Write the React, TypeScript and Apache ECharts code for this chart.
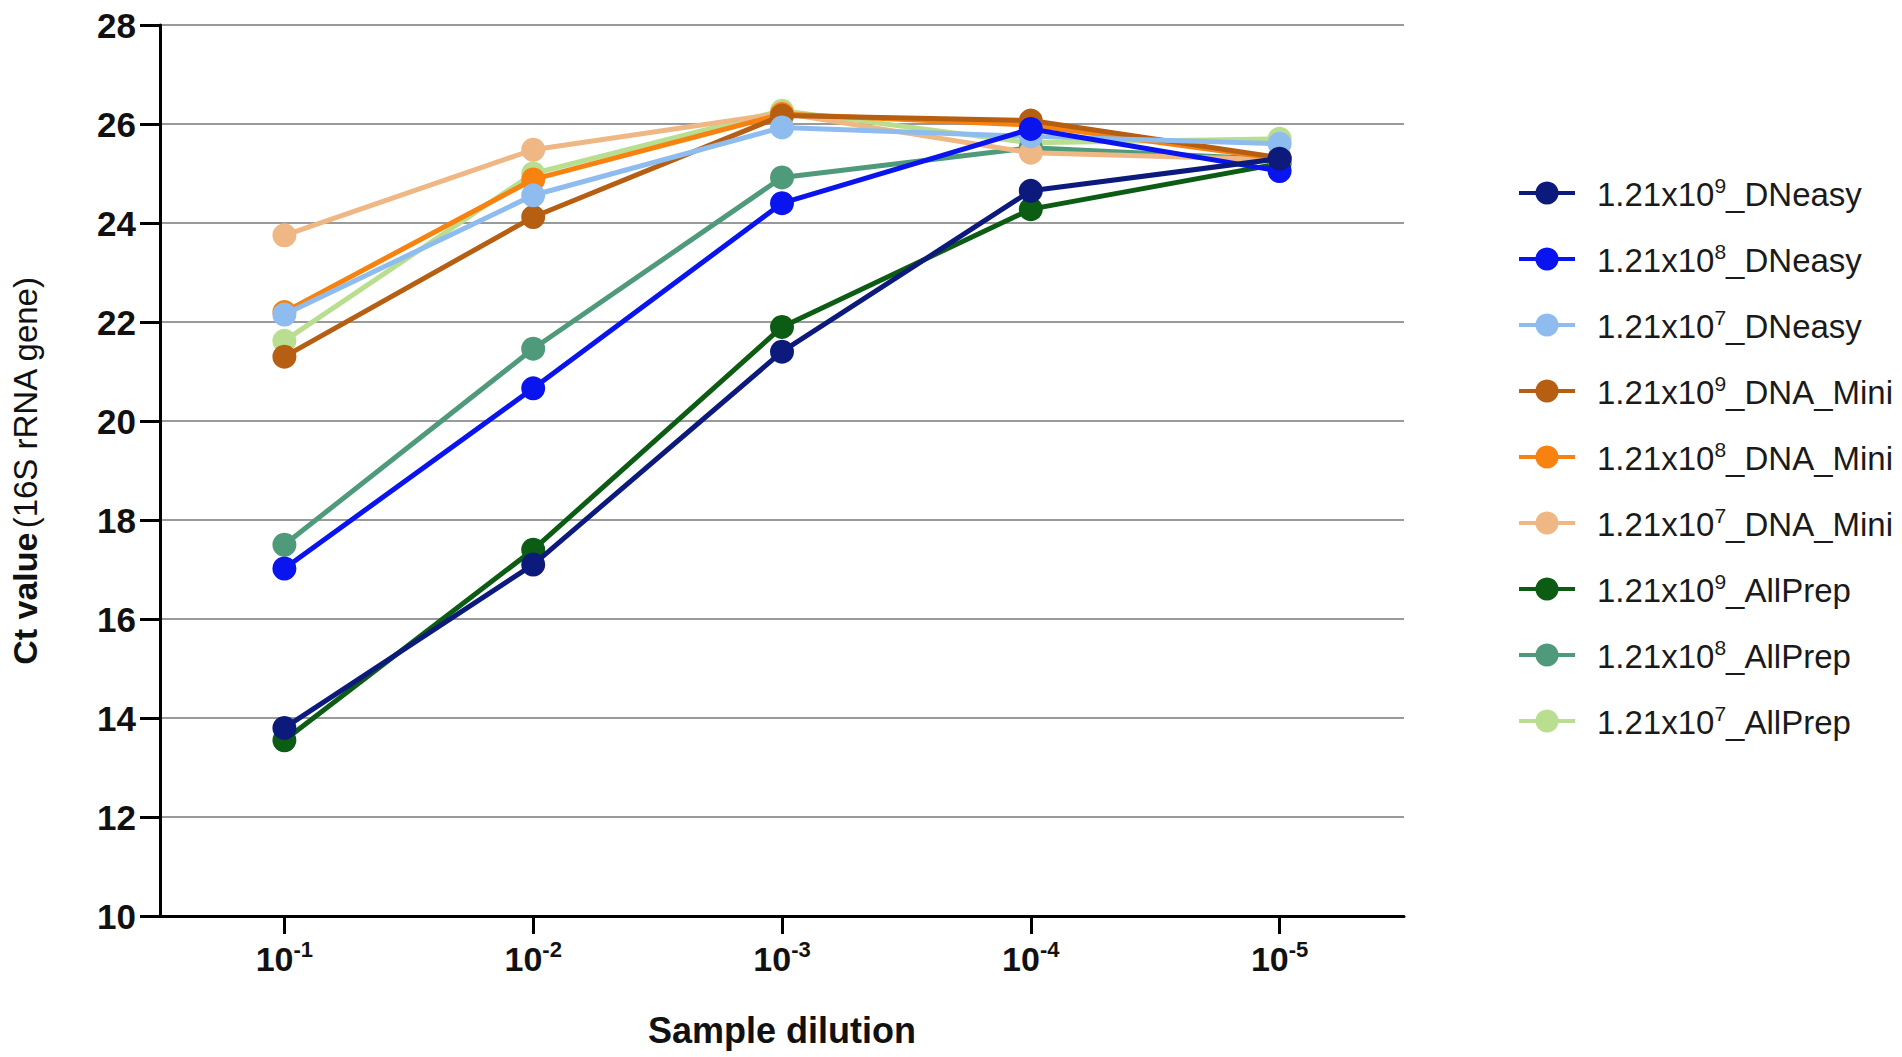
import React, { useEffect, useRef } from "react";
import * as echarts from "echarts";

const categories = ["-1", "-2", "-3", "-4", "-5"];
const yTicks = [10, 12, 14, 16, 18, 20, 22, 24, 26, 28];

const seriesNames = [
  "9_DNeasy",
  "8_DNeasy",
  "7_DNeasy",
  "9_DNA_Mini",
  "8_DNA_Mini",
  "7_DNA_Mini",
  "9_AllPrep",
  "8_AllPrep",
  "7_AllPrep",
];

const dneasy9 = [13.8, 17.1, 21.4, 24.65, 25.3];
const dneasy8 = [17.02, 20.66, 24.4, 25.9, 25.05];
const dneasy7 = [22.15, 24.56, 25.93, 25.75, 25.6];
const mini9 = [21.3, 24.12, 26.17, 26.07, 25.32];
const mini8 = [22.2, 24.88, 26.2, 25.98, 25.3];
const mini7 = [23.75, 25.48, 26.22, 25.42, 25.28];
const allprep9 = [13.55, 17.4, 21.9, 24.28, 25.2];
const allprep8 = [17.5, 21.46, 24.92, 25.52, 25.28];
const allprep7 = [21.62, 25.0, 26.27, 25.62, 25.7];

const seriesValues = [dneasy9, dneasy8, dneasy7, mini9, mini8, mini7, allprep9, allprep8, allprep7];

const colors = [
  "#0c1a7c",
  "#0a14ee",
  "#8fbcef",
  "#b65e12",
  "#f7820f",
  "#efb784",
  "#0c5c14",
  "#4f9a7a",
  "#b9de8f",
];

const FONT = '"Liberation Sans", Arial, Helvetica, sans-serif';

export default function App() {
  const ref = useRef<HTMLDivElement>(null);

  useEffect(() => {
    document.body.style.margin = "0";
    const chart = echarts.init(ref.current!, null, { renderer: "svg" });
    const series = seriesNames.map((name, i) => ({
      name,
      type: "line",
      data: seriesValues[i],
      symbol: "circle",
      symbolSize: 24,
      z: 20 - i,
      lineStyle: { width: 5, color: colors[i] },
      itemStyle: { color: colors[i] },
      emphasis: { disabled: true },
    }));

    chart.setOption({
      animation: false,
      backgroundColor: "#ffffff",
      textStyle: { fontFamily: FONT },
      grid: { left: 157, top: 25, width: 1247, height: 891, containLabel: false },
      legend: {
        orient: "vertical",
        left: 1512,
        top: 170,
        itemWidth: 56,
        itemHeight: 29,
        itemGap: 30,
        data: seriesNames,
        lineStyle: { width: 4 },
        formatter: (name: string) => {
          const exp = name.charAt(0);
          const rest = name.slice(1);
          return `{n|1.21x10}{s|${exp}}{n|${rest}}`;
        },
        textStyle: {
          fontFamily: FONT,
          color: "#1a1a1a",
          padding: [0, 0, 0, 17],
          rich: {
            n: { fontSize: 33, fontFamily: FONT, color: "#1a1a1a", lineHeight: 36, verticalAlign: "bottom" },
            s: { fontSize: 21, fontFamily: FONT, color: "#1a1a1a", lineHeight: 21, verticalAlign: "top" },
          },
        },
      },
      xAxis: {
        type: "category",
        data: categories,
        boundaryGap: true,
        name: "Sample dilution",
        nameLocation: "middle",
        nameGap: 96,
        nameTextStyle: { fontSize: 36, fontWeight: "bold", color: "#111", fontFamily: FONT },
        axisLine: { lineStyle: { color: "#000", width: 3 } },
        axisTick: { show: true, alignWithLabel: true, length: 18, lineStyle: { color: "#000", width: 3 } },
        axisLabel: {
          margin: 22,
          formatter: (v: string) => `{b|10}{s|${v}}`,
          rich: {
            b: { fontSize: 34, fontWeight: "bold", color: "#111", fontFamily: FONT, lineHeight: 38, verticalAlign: "bottom" },
            s: { fontSize: 22, fontWeight: "bold", color: "#111", fontFamily: FONT, lineHeight: 22, verticalAlign: "top" },
          },
        },
        splitLine: { show: false },
      },
      yAxis: {
        type: "value",
        min: 10,
        max: 28,
        interval: 2,
        name: "{b|Ct value} {n|(16S rRNA gene)}",
        nameLocation: "middle",
        nameGap: 118,
        nameTextStyle: {
          color: "#111",
          rich: {
            b: { fontSize: 34, fontWeight: "bold", color: "#111", fontFamily: FONT },
            n: { fontSize: 33, fontWeight: "normal", color: "#111", fontFamily: FONT },
          },
        },
        axisLine: { show: true, lineStyle: { color: "#000", width: 3 } },
        axisTick: { show: true, length: 20, lineStyle: { color: "#000", width: 3 } },
        axisLabel: {
          margin: 24,
          fontSize: 35,
          fontWeight: "bold",
          color: "#111",
          fontFamily: FONT,
          formatter: (v: number) => (yTicks.includes(v) ? String(v) : ""),
        },
        splitLine: { show: true, lineStyle: { color: "#9a9a9a", width: 2 } },
      },
      series,
    });
    return () => chart.dispose();
  }, []);

  return (
    <div
      ref={ref}
      style={{ position: "fixed", left: 0, top: 0, width: 1902, height: 1057, background: "#fff" }}
    />
  );
}
